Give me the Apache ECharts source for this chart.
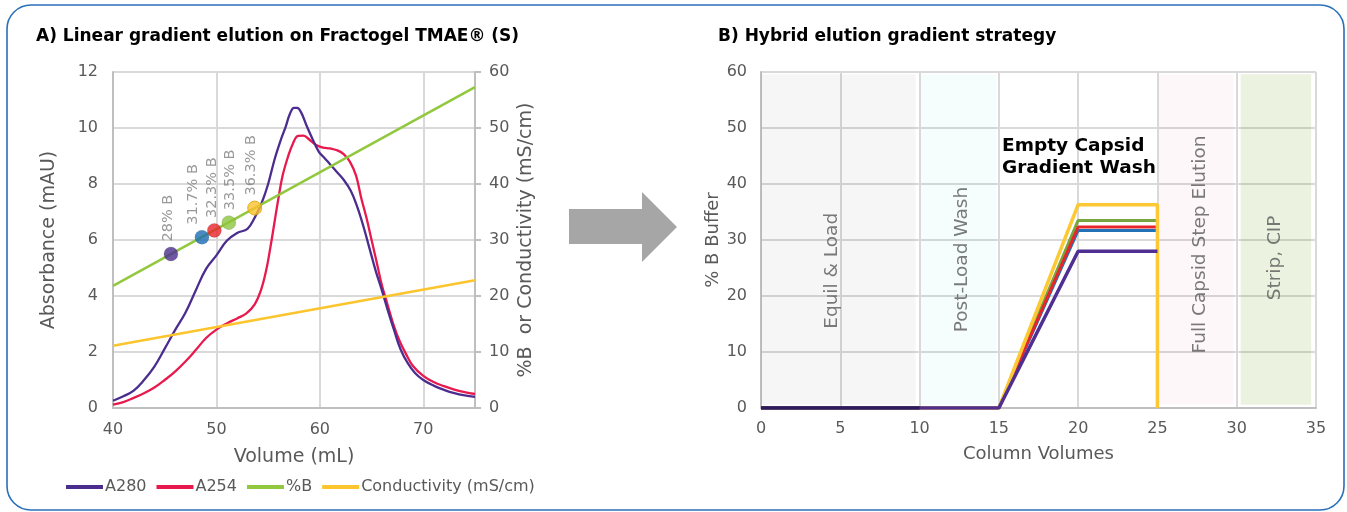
<!DOCTYPE html>
<html><head><meta charset="utf-8">
<script src="https://cdn.jsdelivr.net/npm/echarts@6/dist/echarts.min.js"></script>
<style>html,body{margin:0;padding:0;background:#fff}#c{width:1347px;height:512px}</style>
</head><body><div id="c"></div>
<script>
// ---- Panel A data ----
const volA280 = [40,41,42,43,44,45,46,47,48,49,50,51,52,53,53.7,54.4,55,55.6,56.2,56.7,57.1,57.5,57.8,58.2,58.7,59.3,59.9,60.4,61,61.6,62.3,63,63.6,64.2,64.8,65.4,66,66.6,67.2,67.8,68.5,69.2,70,71,72,73,74,75];
const a280 = [0.26,0.42,0.62,1.0,1.48,2.12,2.78,3.4,4.2,4.97,5.45,5.97,6.25,6.4,6.8,7.35,8.0,8.85,9.55,10.05,10.5,10.72,10.72,10.55,10.1,9.6,9.15,8.95,8.7,8.45,8.15,7.75,7.2,6.5,5.7,4.9,4.2,3.45,2.75,2.1,1.6,1.25,1.0,0.8,0.65,0.53,0.45,0.4];
const volA254 = [40,41,42,43,44,45,46,47,48,49,50,51,52,52.9,53.7,54.3,54.8,55.2,55.6,56,56.4,56.9,57.4,57.9,58.4,59,59.6,60.3,61,61.7,62.3,62.9,63.5,64,64.5,65,65.5,66,66.5,67.1,67.7,68.3,69,70,71,72,73,74,75];
const a254 = [0.12,0.21,0.36,0.53,0.73,1.0,1.3,1.66,2.07,2.5,2.8,3.02,3.2,3.38,3.7,4.2,4.9,5.7,6.6,7.5,8.3,8.95,9.45,9.72,9.73,9.58,9.4,9.3,9.27,9.2,9.07,8.8,8.3,7.5,6.8,6.0,5.2,4.38,3.75,3.0,2.4,1.95,1.5,1.15,0.93,0.78,0.66,0.57,0.5];
const volLine = [40, 75];
const pctB = [21.8, 57.3];
const conductivity = [11.1, 22.8];
const dotVol = [45.6, 48.6, 49.8, 51.2, 53.7];
const dotB = [27.5, 30.5, 31.7, 33.1, 35.7];
const dotLabels = ['28% B','31.7% B','32.3% B','33.5% B','36.3% B'];
const dotColors = ['#4b2d8f','#1d6db3','#e8232a','#8dc63f','#fbc02d'];
const legendNames = ['A280','A254','%B','Conductivity (mS/cm)'];

// ---- Panel B data ----
const cvPoints = [0, 15, 20, 25];
const washLevels = [28, 31.7, 32.3, 33.5, 36.3];
const washColors = ['#4f2f92','#2272b9','#e5262a','#77a43f','#fcc833'];
const bandStart = [0, 10.1, 25.1, 30.25];
const bandEnd = [9.75, 14.85, 29.8, 34.7];
const bandColors = ['rgba(0,0,0,0.035)','rgba(0,190,190,0.035)','rgba(220,60,120,0.04)','rgba(120,170,40,0.15)'];
const bandLabelX = [4.5, 12.7, 27.7, 32.4];
const bandLabelY = [24.5, 26.5, 29.2, 26.8];
const bandLabelText = ['Equil & Load','Post-Load Wash','Full Capsid Step Elution','Strip, CIP'];
const washNote = 'Empty Capsid\nGradient Wash';
const washNotePos = [15.2, 44.8];

const FONT = 'DejaVu Sans';
const GRAY = '#595959';
const zip = (a, b) => a.map((v, i) => [v, b[i]]);
// label offsets in the rotated text frame: [along text (up), across text (right)]
const dotLabelShift = [[0, -3], [0, -9], [0, -2], [0, 1], [0, -3]];

const chart = echarts.init(document.getElementById('c'), null, {renderer: 'canvas'});

const axisCommon = {
  axisLabel: {color: GRAY, fontSize: 16, fontFamily: FONT},
  nameTextStyle: {color: GRAY, fontSize: 19, fontFamily: FONT},
  splitLine: {show: true, lineStyle: {color: '#d9d9d9', width: 2}},
  axisLine: {show: true, lineStyle: {color: '#bfbfbf', width: 2}},
  axisTick: {show: false}
};

const zOrder = [7, 4, 5, 4.5, 6];
const seriesB = washLevels.map((lvl, i) => {
  const pts = zip(cvPoints, [0, 0, lvl, lvl]);
  if (i === washLevels.length - 1) pts.push([25, 0]);
  return {type: 'line', xAxisIndex: 1, yAxisIndex: 2, data: pts, symbol: 'none',
    lineStyle: {color: washColors[i], width: (i === 0 || i === 4) ? 3.5 : 3}, z: zOrder[i], silent: true};
});
seriesB.push({type: 'line', xAxisIndex: 1, yAxisIndex: 2, data: [[0,0],[10,0]], symbol: 'none',
  lineStyle: {color: '#2d1c5c', width: 3.5}, z: 8, silent: true});

chart.setOption({
  animation: false,
  textStyle: {fontFamily: FONT},
  title: [
    {text: 'A) Linear gradient elution on Fractogel TMAE® (S)', left: 36, top: 28, padding: 0,
     textStyle: {fontSize: 17, fontWeight: 'bold', color: '#000', fontFamily: FONT}},
    {text: 'B) Hybrid elution gradient strategy', left: 718, top: 28, padding: 0,
     textStyle: {fontSize: 17, fontWeight: 'bold', color: '#000', fontFamily: FONT}}
  ],
  legend: {data: legendNames, left: 66, top: 479, padding: 0, icon: 'rect', itemWidth: 37, itemHeight: 4, itemGap: 10,
    textStyle: {color: GRAY, fontSize: 16, fontFamily: FONT, padding: [0, 0, 0, -3]}},
  grid: [
    {left: 113, top: 72, width: 362, height: 336},
    {left: 761, top: 72, width: 555, height: 336}
  ],
  xAxis: [
    Object.assign({}, axisCommon, {type: 'value', gridIndex: 0, min: 40, max: 75, interval: 10,
      name: 'Volume (mL)', nameLocation: 'middle', nameGap: 40,
      axisLabel: Object.assign({}, axisCommon.axisLabel, {showMaxLabel: false, margin: 14})}),
    Object.assign({}, axisCommon, {type: 'value', gridIndex: 1, min: 0, max: 35, interval: 5,
      name: 'Column Volumes', nameLocation: 'middle', nameGap: 37,
      nameTextStyle: Object.assign({}, axisCommon.nameTextStyle, {fontSize: 18}),
      axisLabel: Object.assign({}, axisCommon.axisLabel, {margin: 13})})
  ],
  yAxis: [
    Object.assign({}, axisCommon, {type: 'value', gridIndex: 0, min: 0, max: 12, interval: 2,
      name: 'Absorbance (mAU)', nameLocation: 'middle', nameGap: 54,
      axisLabel: Object.assign({}, axisCommon.axisLabel, {margin: 15})}),
    Object.assign({}, axisCommon, {type: 'value', gridIndex: 0, min: 0, max: 60, interval: 10, position: 'right',
      name: '%B  or Conductivity (mS/cm)', nameLocation: 'middle', nameGap: 42,
      splitLine: {show: false},
      axisTick: {show: true, length: 6, lineStyle: {color: '#bfbfbf', width: 2}},
      axisLabel: Object.assign({}, axisCommon.axisLabel, {margin: 14})}),
    Object.assign({}, axisCommon, {type: 'value', gridIndex: 1, min: 0, max: 60, interval: 10,
      name: '% B Buffer', nameLocation: 'middle', nameGap: 39,
      nameTextStyle: Object.assign({}, axisCommon.nameTextStyle, {fontSize: 18}),
      axisLabel: Object.assign({}, axisCommon.axisLabel, {margin: 14})})
  ],
  series: [
    {name: 'A280', type: 'line', xAxisIndex: 0, yAxisIndex: 0, data: zip(volA280, a280), symbol: 'none', smooth: 0.4,
     lineStyle: {color: '#4b2d8f', width: 2.3}, itemStyle: {color: '#4b2d8f'}, z: 4},
    {name: 'A254', type: 'line', xAxisIndex: 0, yAxisIndex: 0, data: zip(volA254, a254), symbol: 'none', smooth: 0.4,
     lineStyle: {color: '#e8194d', width: 2.3}, itemStyle: {color: '#e8194d'}, z: 3},
    {name: '%B', type: 'line', xAxisIndex: 0, yAxisIndex: 1, data: zip(volLine, pctB), symbol: 'none',
     lineStyle: {color: '#92c83e', width: 2.5}, itemStyle: {color: '#92c83e'}, z: 5},
    {name: 'Conductivity (mS/cm)', type: 'line', xAxisIndex: 0, yAxisIndex: 1, data: zip(volLine, conductivity), symbol: 'none',
     lineStyle: {color: '#fcc42d', width: 2.5}, itemStyle: {color: '#fcc42d'}, z: 5},
    {type: 'scatter', xAxisIndex: 0, yAxisIndex: 1, symbolSize: 14, z: 6,
     data: dotVol.map((v, i) => ({value: [v, dotB[i]], name: dotLabels[i],
       itemStyle: {color: dotColors[i], borderColor: i === 4 ? '#d9a400' : 'rgba(0,0,0,0.15)', borderWidth: 1},
       label: {offset: dotLabelShift[i]}})),
     label: {show: true, position: 'top', distance: 5, rotate: 90, align: 'left', verticalAlign: 'middle',
       formatter: p => p.name, color: '#808080', fontSize: 14.5, fontFamily: FONT}},
    // Panel B bands
    {type: 'line', xAxisIndex: 1, yAxisIndex: 2, data: [], silent: true, z: 1,
     markArea: {silent: true, data: bandStart.map((s, i) => [
       {xAxis: s, yAxis: 0.6, itemStyle: {color: bandColors[i]}}, {xAxis: bandEnd[i], yAxis: 59.6}])}},
    {type: 'scatter', xAxisIndex: 1, yAxisIndex: 2, symbolSize: 0, silent: true, z: 2,
     data: bandLabelX.map((x, i) => ({value: [x, bandLabelY[i]], name: bandLabelText[i]})),
     label: {show: true, position: 'inside', rotate: 90, formatter: p => p.name, color: GRAY, fontSize: 18.5, fontFamily: FONT}},
    {type: 'scatter', xAxisIndex: 1, yAxisIndex: 2, symbolSize: 0, silent: true, z: 9,
     data: [{value: washNotePos, name: washNote}],
     label: {show: true, position: 'right', distance: 0, formatter: p => p.name, color: '#000000', opacity: 1,
       fontSize: 18.5, fontWeight: 'bold', lineHeight: 22, fontFamily: FONT}}
  ].concat(seriesB),
  graphic: [
    {type: 'rect', shape: {x: 7, y: 5, width: 1337, height: 505, r: 24}, style: {fill: 'none', stroke: '#2a6fb9', lineWidth: 1.6}, silent: true},
    {type: 'polygon', shape: {points: [[569,209],[642,209],[642,192],[677,227],[642,262],[642,244],[569,244]]},
     style: {fill: '#a6a6a6'}, silent: true}
  ]
});
</script></body></html>
